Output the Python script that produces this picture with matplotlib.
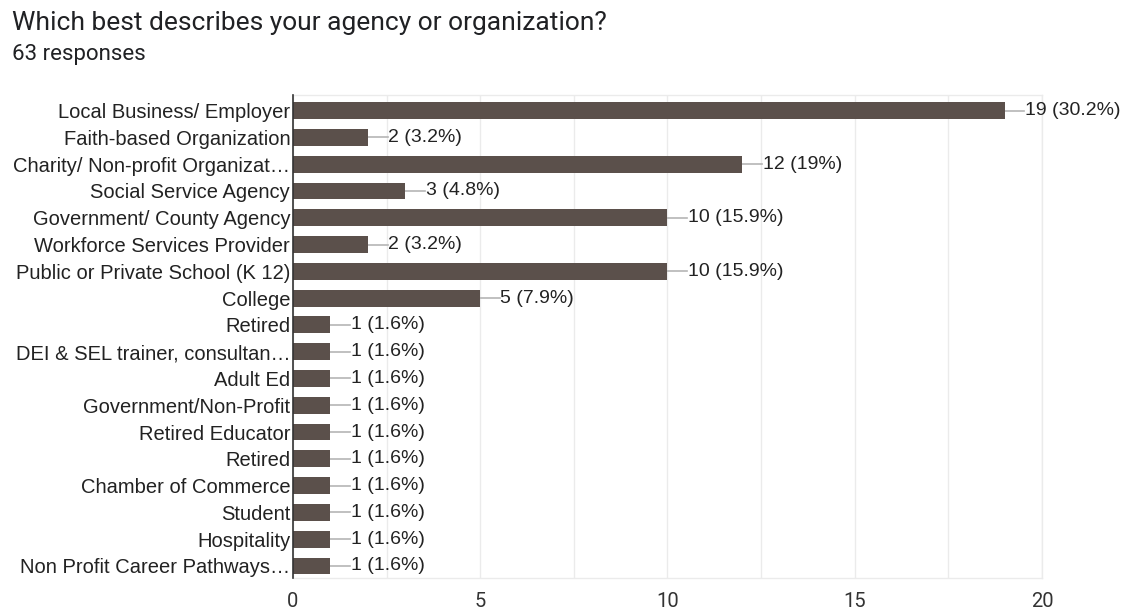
import numpy as np
import matplotlib.pyplot as plt
from matplotlib.ticker import MultipleLocator

categories = [
    "Local Business/ Employer",
    "Faith-based Organization",
    "Charity/ Non-profit Organizat\u2026",
    "Social Service Agency",
    "Government/ County Agency",
    "Workforce Services Provider",
    "Public or Private School (K 12)",
    "College",
    "Retired",
    "DEI & SEL trainer, consultan\u2026",
    "Adult Ed",
    "Government/Non-Profit",
    "Retired Educator",
    "Retired",
    "Chamber of Commerce",
    "Student",
    "Hospitality",
    "Non Profit Career Pathways\u2026",
]
counts = [19, 2, 12, 3, 10, 2, 10, 5, 1, 1, 1, 1, 1, 1, 1, 1, 1, 1]
pct_labels = ["30.2%", "3.2%", "19%", "4.8%", "15.9%", "3.2%", "15.9%", "7.9%",
              "1.6%", "1.6%", "1.6%", "1.6%", "1.6%", "1.6%", "1.6%", "1.6%",
              "1.6%", "1.6%"]
total = 63

bar_col = '#5b504b'
lab_font = 'Liberation Sans'

fig = plt.figure(figsize=(11.26, 6.14), dpi=100)
ax = fig.add_axes([0.2602, 0.0586, 0.6652, 0.7866])

y = np.arange(len(categories))
ax.barh(y, counts, height=0.63, color=bar_col, zorder=3)

# connector + value label for each bar
for yi, c, p in zip(y, counts, pct_labels):
    ax.plot([c, c + 0.53], [yi, yi], color='#b5b5b5', lw=1.2, zorder=2,
            clip_on=False)
    ax.text(c + 0.54, yi, "%d (%s)" % (c, p), va='center', ha='left',
            fontsize=14, family=lab_font, color='#222222', clip_on=False)

ax.set_xlim(0, 20)
ax.set_ylim(len(categories) - 0.55, -0.58)
ax.set_yticks(y)
ax.set_yticklabels(categories, family=lab_font, fontsize=14.5, color='#222222')
ax.xaxis.set_major_locator(MultipleLocator(5))
ax.xaxis.set_minor_locator(MultipleLocator(2.5))
ax.grid(axis='x', which='both', color='#ebebeb', lw=1, zorder=0)
ax.tick_params(axis='both', which='both', length=0)
ax.tick_params(axis='x', pad=10, labelsize=14.5, labelcolor='#333333')
ax.tick_params(axis='y', pad=2)
for t in ax.get_xticklabels():
    t.set_family('Roboto')

for s in ['top', 'right', 'bottom']:
    ax.spines[s].set_color('#ebebeb')
    ax.spines[s].set_linewidth(1)
ax.spines['left'].set_color('#333333')
ax.spines['left'].set_linewidth(1.2)
ax.spines['left'].set_zorder(4)

fig.text(0.0107, 0.962, "Which best describes your agency or organization?",
         fontsize=19, family='Roboto', color='#202124', va='center')
fig.text(0.0107, 0.912, "%d responses" % total, fontsize=16, family='Roboto',
         color='#202124', va='center')

fig.savefig('out.png', dpi=100, facecolor='white')
